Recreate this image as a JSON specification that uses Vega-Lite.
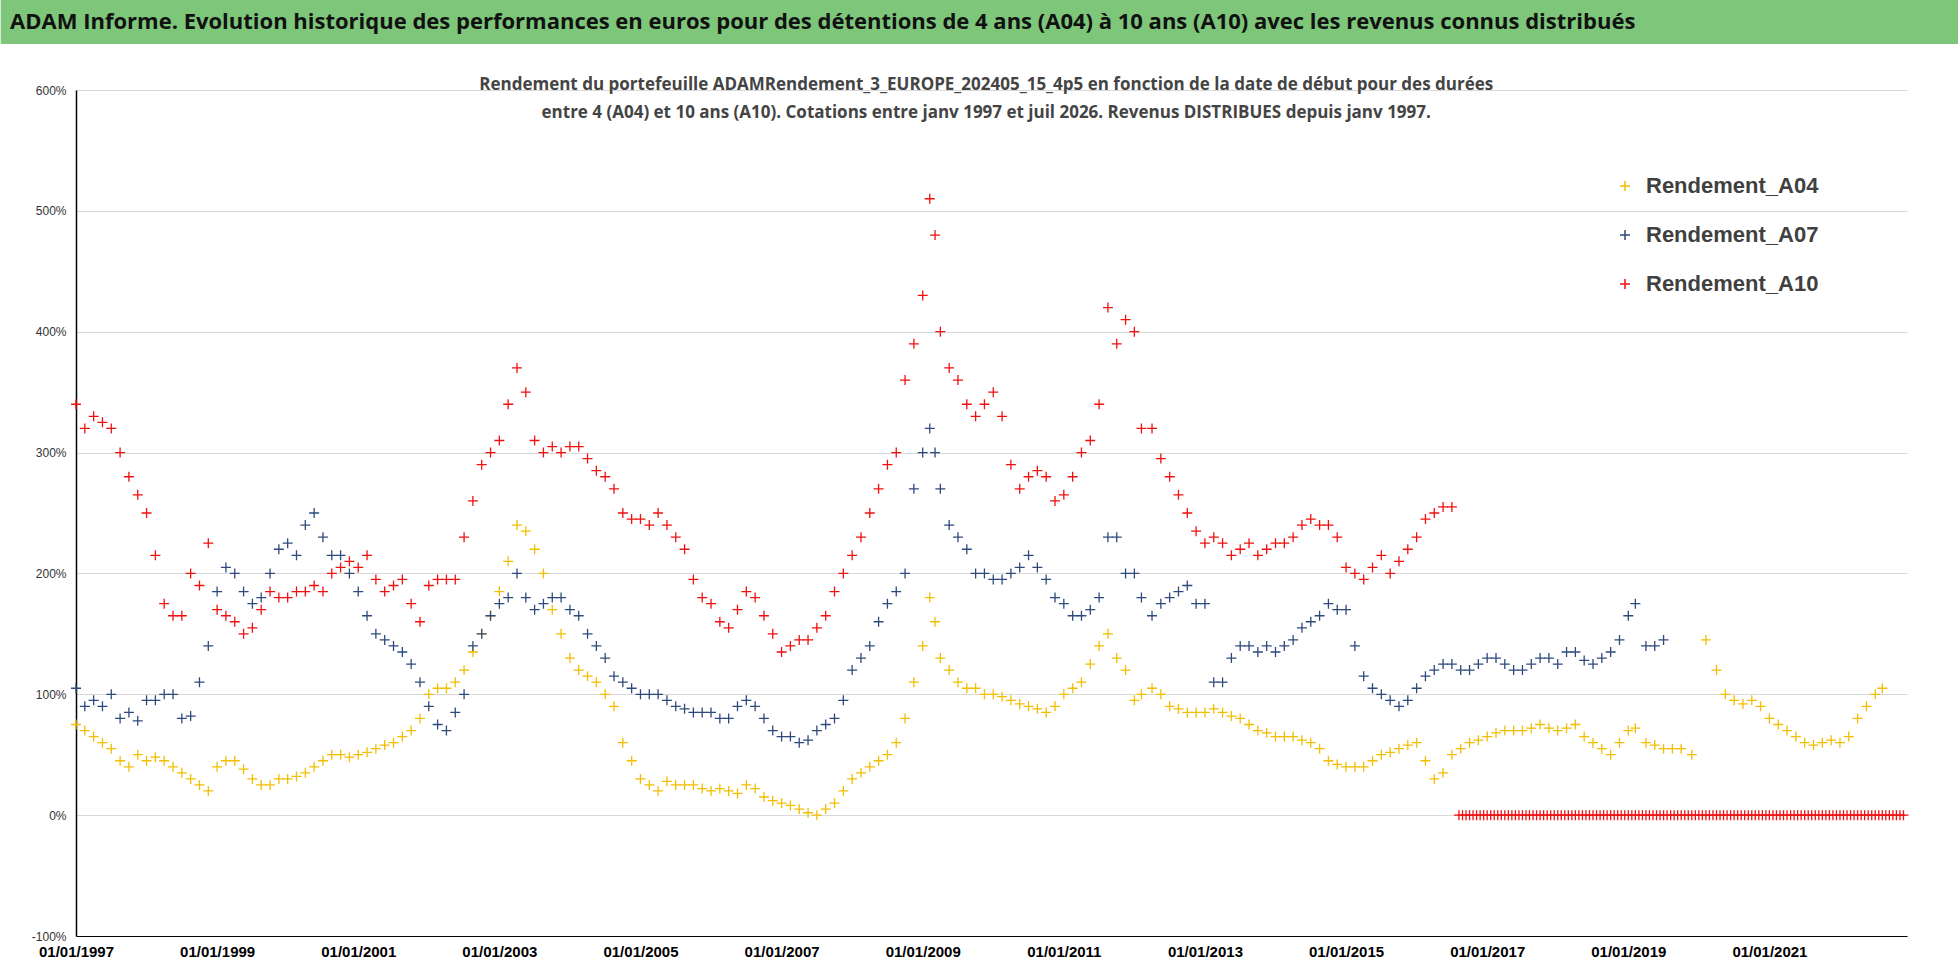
{
  "$schema": "https://vega.github.io/schema/vega-lite/v6.json",
  "background": "white",
  "padding": 0,
  "spacing": 32,
  "config": {"view": {"stroke": null}, "font": "Liberation Sans"},
  "vconcat": [
    {
      "width": 1883,
      "height": 44,
      "data": {"values": [{"t": "ADAM Informe. Evolution historique des performances en euros pour des détentions de 4 ans (A04) à 10 ans (A10) avec les revenus connus distribués", "x0": -0.04, "x1": 1, "y0": 0, "y1": 1}]},
      "layer": [
        {
          "mark": {"type": "rect", "color": "#7DC67A"},
          "encoding": {
            "x": {"field": "x0", "type": "quantitative", "scale": {"domain": [0, 1], "nice": false, "zero": false}, "axis": null},
            "x2": {"field": "x1"},
            "y": {"field": "y0", "type": "quantitative", "scale": {"domain": [0, 1], "nice": false}, "axis": null},
            "y2": {"field": "y1"}
          }
        },
        {
          "mark": {"type": "text", "align": "left", "baseline": "middle", "fontSize": 22, "fontWeight": "bold", "color": "#111111", "font": "Open Sans"},
          "encoding": {
            "x": {"datum": -0.035, "type": "quantitative"},
            "y": {"datum": 0.5, "type": "quantitative"},
            "text": {"field": "t"}
          }
        }
      ]
    },
    {
      "width": 1831,
      "height": 846,
      "layer": [
        {
          "data": {"values": [
            {"t":1997.0,"a4":75,"a7":105,"a10":340},
            {"t":1997.25,"a4":65,"a7":95,"a10":330},
            {"t":1997.5,"a4":55,"a7":100,"a10":320},
            {"t":1997.75,"a4":40,"a7":85,"a10":280},
            {"t":1998.0,"a4":45,"a7":95,"a10":250},
            {"t":1998.25,"a4":45,"a7":100,"a10":175},
            {"t":1998.5,"a4":35,"a7":80,"a10":165},
            {"t":1998.75,"a4":25,"a7":110,"a10":190},
            {"t":1999.0,"a4":40,"a7":185,"a10":170},
            {"t":1999.25,"a4":45,"a7":200,"a10":160},
            {"t":1999.5,"a4":30,"a7":175,"a10":155},
            {"t":1999.75,"a4":25,"a7":200,"a10":185},
            {"t":2000.0,"a4":30,"a7":225,"a10":180},
            {"t":2000.25,"a4":35,"a7":240,"a10":185},
            {"t":2000.5,"a4":45,"a7":230,"a10":185},
            {"t":2000.75,"a4":50,"a7":215,"a10":205},
            {"t":2001.0,"a4":50,"a7":185,"a10":205},
            {"t":2001.25,"a4":55,"a7":150,"a10":195},
            {"t":2001.5,"a4":60,"a7":140,"a10":190},
            {"t":2001.75,"a4":70,"a7":125,"a10":175},
            {"t":2002.0,"a4":100,"a7":90,"a10":190},
            {"t":2002.25,"a4":105,"a7":70,"a10":195},
            {"t":2002.5,"a4":120,"a7":100,"a10":230},
            {"t":2002.75,"a4":150,"a7":150,"a10":290},
            {"t":2003.0,"a4":185,"a7":175,"a10":310},
            {"t":2003.25,"a4":240,"a7":200,"a10":370},
            {"t":2003.5,"a4":220,"a7":170,"a10":310},
            {"t":2003.75,"a4":170,"a7":180,"a10":305},
            {"t":2004.0,"a4":130,"a7":170,"a10":305},
            {"t":2004.25,"a4":115,"a7":150,"a10":295},
            {"t":2004.5,"a4":100,"a7":130,"a10":280},
            {"t":2004.75,"a4":60,"a7":110,"a10":250},
            {"t":2005.0,"a4":30,"a7":100,"a10":245},
            {"t":2005.25,"a4":20,"a7":100,"a10":250},
            {"t":2005.5,"a4":25,"a7":90,"a10":230},
            {"t":2005.75,"a4":25,"a7":85,"a10":195},
            {"t":2006.0,"a4":20,"a7":85,"a10":175},
            {"t":2006.25,"a4":20,"a7":80,"a10":155},
            {"t":2006.5,"a4":25,"a7":95,"a10":185},
            {"t":2006.75,"a4":15,"a7":80,"a10":165},
            {"t":2007.0,"a4":10,"a7":65,"a10":135},
            {"t":2007.25,"a4":5,"a7":60,"a10":145},
            {"t":2007.5,"a4":0,"a7":70,"a10":155},
            {"t":2007.75,"a4":10,"a7":80,"a10":185},
            {"t":2008.0,"a4":30,"a7":120,"a10":215},
            {"t":2008.25,"a4":40,"a7":140,"a10":250},
            {"t":2008.5,"a4":50,"a7":175,"a10":290},
            {"t":2008.75,"a4":80,"a7":200,"a10":360},
            {"t":2009.0,"a4":140,"a7":300,"a10":430},
            {"t":2009.1,"a4":180,"a7":320,"a10":510},
            {"t":2009.25,"a4":130,"a7":270,"a10":400},
            {"t":2009.5,"a4":110,"a7":230,"a10":360},
            {"t":2009.75,"a4":105,"a7":200,"a10":330},
            {"t":2010.0,"a4":100,"a7":195,"a10":350},
            {"t":2010.25,"a4":95,"a7":200,"a10":290},
            {"t":2010.5,"a4":90,"a7":215,"a10":280},
            {"t":2010.75,"a4":85,"a7":195,"a10":280},
            {"t":2011.0,"a4":100,"a7":175,"a10":265},
            {"t":2011.25,"a4":110,"a7":165,"a10":300},
            {"t":2011.5,"a4":140,"a7":180,"a10":340},
            {"t":2011.75,"a4":130,"a7":230,"a10":390},
            {"t":2012.0,"a4":95,"a7":200,"a10":400},
            {"t":2012.1,"a4":100,"a7":180,"a10":320},
            {"t":2012.25,"a4":105,"a7":165,"a10":320},
            {"t":2012.5,"a4":90,"a7":180,"a10":280},
            {"t":2012.75,"a4":85,"a7":190,"a10":250},
            {"t":2013.0,"a4":85,"a7":175,"a10":225},
            {"t":2013.25,"a4":85,"a7":110,"a10":225},
            {"t":2013.5,"a4":80,"a7":140,"a10":220},
            {"t":2013.75,"a4":70,"a7":135,"a10":215},
            {"t":2014.0,"a4":65,"a7":135,"a10":225},
            {"t":2014.25,"a4":65,"a7":145,"a10":230},
            {"t":2014.5,"a4":60,"a7":160,"a10":245},
            {"t":2014.75,"a4":45,"a7":175,"a10":240},
            {"t":2015.0,"a4":40,"a7":170,"a10":205},
            {"t":2015.25,"a4":40,"a7":115,"a10":195},
            {"t":2015.5,"a4":50,"a7":100,"a10":215},
            {"t":2015.75,"a4":55,"a7":90,"a10":210},
            {"t":2016.0,"a4":60,"a7":105,"a10":230},
            {"t":2016.25,"a4":30,"a7":120,"a10":250},
            {"t":2016.5,"a4":50,"a7":125,"a10":255},
            {"t":2016.75,"a4":60,"a7":120,"a10":null},
            {"t":2017.0,"a4":65,"a7":130,"a10":null},
            {"t":2017.25,"a4":70,"a7":125,"a10":null},
            {"t":2017.5,"a4":70,"a7":120,"a10":null},
            {"t":2017.75,"a4":75,"a7":130,"a10":null},
            {"t":2018.0,"a4":70,"a7":125,"a10":null},
            {"t":2018.25,"a4":75,"a7":135,"a10":null},
            {"t":2018.5,"a4":60,"a7":125,"a10":null},
            {"t":2018.75,"a4":50,"a7":135,"a10":null},
            {"t":2019.0,"a4":70,"a7":165,"a10":null},
            {"t":2019.1,"a4":72,"a7":175,"a10":null},
            {"t":2019.25,"a4":60,"a7":140,"a10":null},
            {"t":2019.5,"a4":55,"a7":145,"a10":null},
            {"t":2019.75,"a4":55,"a7":null,"a10":null},
            {"t":2019.9,"a4":50,"a7":null,"a10":null},
            {"t":2020.1,"a4":145,"a7":null,"a10":null},
            {"t":2020.25,"a4":120,"a7":null,"a10":null},
            {"t":2020.5,"a4":95,"a7":null,"a10":null},
            {"t":2020.75,"a4":95,"a7":null,"a10":null},
            {"t":2021.0,"a4":80,"a7":null,"a10":null},
            {"t":2021.25,"a4":70,"a7":null,"a10":null},
            {"t":2021.5,"a4":60,"a7":null,"a10":null},
            {"t":2021.75,"a4":60,"a7":null,"a10":null},
            {"t":2022.0,"a4":60,"a7":null,"a10":null},
            {"t":2022.25,"a4":80,"a7":null,"a10":null},
            {"t":2022.5,"a4":100,"a7":null,"a10":null},
            {"t":2022.6,"a4":105,"a7":null,"a10":null},
            {"t":1997.125,"a4":70,"a7":90,"a10":320},
            {"t":1997.375,"a4":60,"a7":90,"a10":325},
            {"t":1997.625,"a4":45,"a7":80,"a10":300},
            {"t":1997.875,"a4":50,"a7":78,"a10":265},
            {"t":1998.125,"a4":48,"a7":95,"a10":215},
            {"t":1998.375,"a4":40,"a7":100,"a10":165},
            {"t":1998.625,"a4":30,"a7":82,"a10":200},
            {"t":1998.875,"a4":20,"a7":140,"a10":225},
            {"t":1999.125,"a4":45,"a7":205,"a10":165},
            {"t":1999.375,"a4":38,"a7":185,"a10":150},
            {"t":1999.625,"a4":25,"a7":180,"a10":170},
            {"t":1999.875,"a4":30,"a7":220,"a10":180},
            {"t":2000.125,"a4":32,"a7":215,"a10":185},
            {"t":2000.375,"a4":40,"a7":250,"a10":190},
            {"t":2000.625,"a4":50,"a7":215,"a10":200},
            {"t":2000.875,"a4":48,"a7":200,"a10":210},
            {"t":2001.125,"a4":52,"a7":165,"a10":215},
            {"t":2001.375,"a4":58,"a7":145,"a10":185},
            {"t":2001.625,"a4":65,"a7":135,"a10":195},
            {"t":2001.875,"a4":80,"a7":110,"a10":160},
            {"t":2002.125,"a4":105,"a7":75,"a10":195},
            {"t":2002.375,"a4":110,"a7":85,"a10":195},
            {"t":2002.625,"a4":135,"a7":140,"a10":260},
            {"t":2002.875,"a4":165,"a7":165,"a10":300},
            {"t":2003.125,"a4":210,"a7":180,"a10":340},
            {"t":2003.375,"a4":235,"a7":180,"a10":350},
            {"t":2003.625,"a4":200,"a7":175,"a10":300},
            {"t":2003.875,"a4":150,"a7":180,"a10":300},
            {"t":2004.125,"a4":120,"a7":165,"a10":305},
            {"t":2004.375,"a4":110,"a7":140,"a10":285},
            {"t":2004.625,"a4":90,"a7":115,"a10":270},
            {"t":2004.875,"a4":45,"a7":105,"a10":245},
            {"t":2005.125,"a4":25,"a7":100,"a10":240},
            {"t":2005.375,"a4":28,"a7":95,"a10":240},
            {"t":2005.625,"a4":25,"a7":88,"a10":220},
            {"t":2005.875,"a4":22,"a7":85,"a10":180},
            {"t":2006.125,"a4":22,"a7":80,"a10":160},
            {"t":2006.375,"a4":18,"a7":90,"a10":170},
            {"t":2006.625,"a4":22,"a7":90,"a10":180},
            {"t":2006.875,"a4":12,"a7":70,"a10":150},
            {"t":2007.125,"a4":8,"a7":65,"a10":140},
            {"t":2007.375,"a4":2,"a7":62,"a10":145},
            {"t":2007.625,"a4":5,"a7":75,"a10":165},
            {"t":2007.875,"a4":20,"a7":95,"a10":200},
            {"t":2008.125,"a4":35,"a7":130,"a10":230},
            {"t":2008.375,"a4":45,"a7":160,"a10":270},
            {"t":2008.625,"a4":60,"a7":185,"a10":300},
            {"t":2008.875,"a4":110,"a7":270,"a10":390},
            {"t":2009.175,"a4":160,"a7":300,"a10":480},
            {"t":2009.375,"a4":120,"a7":240,"a10":370},
            {"t":2009.625,"a4":105,"a7":220,"a10":340},
            {"t":2009.875,"a4":100,"a7":200,"a10":340},
            {"t":2010.125,"a4":98,"a7":195,"a10":330},
            {"t":2010.375,"a4":92,"a7":205,"a10":270},
            {"t":2010.625,"a4":88,"a7":205,"a10":285},
            {"t":2010.875,"a4":90,"a7":180,"a10":260},
            {"t":2011.125,"a4":105,"a7":165,"a10":280},
            {"t":2011.375,"a4":125,"a7":170,"a10":310},
            {"t":2011.625,"a4":150,"a7":230,"a10":420},
            {"t":2011.875,"a4":120,"a7":200,"a10":410},
            {"t":2012.375,"a4":100,"a7":175,"a10":295},
            {"t":2012.625,"a4":88,"a7":185,"a10":265},
            {"t":2012.875,"a4":85,"a7":175,"a10":235},
            {"t":2013.125,"a4":88,"a7":110,"a10":230},
            {"t":2013.375,"a4":82,"a7":130,"a10":215},
            {"t":2013.625,"a4":75,"a7":140,"a10":225},
            {"t":2013.875,"a4":68,"a7":140,"a10":220},
            {"t":2014.125,"a4":65,"a7":140,"a10":225},
            {"t":2014.375,"a4":62,"a7":155,"a10":240},
            {"t":2014.625,"a4":55,"a7":165,"a10":240},
            {"t":2014.875,"a4":42,"a7":170,"a10":230},
            {"t":2015.125,"a4":40,"a7":140,"a10":200},
            {"t":2015.375,"a4":45,"a7":105,"a10":205},
            {"t":2015.625,"a4":52,"a7":95,"a10":200},
            {"t":2015.875,"a4":58,"a7":95,"a10":220},
            {"t":2016.125,"a4":45,"a7":115,"a10":245},
            {"t":2016.375,"a4":35,"a7":125,"a10":255},
            {"t":2016.625,"a4":55,"a7":120,"a10":null},
            {"t":2016.875,"a4":62,"a7":125,"a10":null},
            {"t":2017.125,"a4":68,"a7":130,"a10":null},
            {"t":2017.375,"a4":70,"a7":120,"a10":null},
            {"t":2017.625,"a4":72,"a7":125,"a10":null},
            {"t":2017.875,"a4":72,"a7":130,"a10":null},
            {"t":2018.125,"a4":72,"a7":135,"a10":null},
            {"t":2018.375,"a4":65,"a7":128,"a10":null},
            {"t":2018.625,"a4":55,"a7":130,"a10":null},
            {"t":2018.875,"a4":60,"a7":145,"a10":null},
            {"t":2019.375,"a4":58,"a7":140,"a10":null},
            {"t":2019.625,"a4":55,"a7":null,"a10":null},
            {"t":2020.375,"a4":100,"a7":null,"a10":null},
            {"t":2020.625,"a4":92,"a7":null,"a10":null},
            {"t":2020.875,"a4":90,"a7":null,"a10":null},
            {"t":2021.125,"a4":75,"a7":null,"a10":null},
            {"t":2021.375,"a4":65,"a7":null,"a10":null},
            {"t":2021.625,"a4":58,"a7":null,"a10":null},
            {"t":2021.875,"a4":62,"a7":null,"a10":null},
            {"t":2022.125,"a4":65,"a7":null,"a10":null},
            {"t":2022.375,"a4":90,"a7":null,"a10":null}
          ]},
          "transform": [
            {"fold": ["a4", "a7", "a10"], "as": ["k", "v"]},
            {"filter": "datum.v != null"},
            {"lookup": "k", "from": {"data": {"values": [{"k":"a4","s":"Rendement_A04"},{"k":"a7","s":"Rendement_A07"},{"k":"a10","s":"Rendement_A10"}]}, "key": "k", "fields": ["s"]}}
          ],
          "mark": {"type": "point", "shape": "M-1,0L1,0M0,-1L0,1", "filled": false, "size": 100, "strokeWidth": 1.3, "opacity": 1},
          "encoding": {
            "x": {"field": "t", "type": "quantitative", "scale": {"domain": [1997, 2022.95], "nice": false, "zero": false},
              "axis": {"values": [1997,1999,2001,2003,2005,2007,2009,2011,2013,2015,2017,2019,2021], "labelExpr": "'01/01/' + datum.value", "labelFlush": false, "title": null, "grid": false, "domainColor": "#000000", "ticks": false, "labelFontSize": 15, "labelFontWeight": "bold", "labelColor": "#000000", "labelPadding": 8}},
            "y": {"field": "v", "type": "quantitative", "scale": {"domain": [-100, 600], "nice": false},
              "axis": {"values": [-100,0,100,200,300,400,500,600], "labelExpr": "datum.value + '%'", "title": null, "gridColor": "#d9d9d9", "domainColor": "#000000", "domainWidth": 1.5, "ticks": false, "labelFontSize": 12, "labelColor": "#333333", "minExtent": 75, "maxExtent": 75, "labelPadding": 10}},
            "color": {"field": "s", "type": "nominal", "title": null,
              "scale": {"domain": ["Rendement_A04", "Rendement_A07", "Rendement_A10"], "range": ["#F2BE00", "#2E4A7D", "#F01010"]},
              "legend": {"orient": "none", "legendX": 1538, "legendY": 175, "symbolType": "M-1,0L1,0M0,-1L0,1", "symbolSize": 100, "symbolStrokeWidth": 1.5, "labelFontSize": 22, "labelFontWeight": "bold", "labelColor": "#404040", "labelLimit": 0, "rowPadding": 27, "labelOffset": 10}}
          }
        },
        {
          "data": {"values": [
            {"t":2016.6},{"t":2016.65},{"t":2016.7},{"t":2016.75},{"t":2016.8},{"t":2016.85},{"t":2016.9},{"t":2016.95},{"t":2017.0},{"t":2017.05},{"t":2017.1},{"t":2017.15},{"t":2017.2},{"t":2017.25},{"t":2017.3},{"t":2017.35},{"t":2017.4},{"t":2017.45},{"t":2017.5},{"t":2017.55},
            {"t":2017.6},{"t":2017.65},{"t":2017.7},{"t":2017.75},{"t":2017.8},{"t":2017.85},{"t":2017.9},{"t":2017.95},{"t":2018.0},{"t":2018.05},{"t":2018.1},{"t":2018.15},{"t":2018.2},{"t":2018.25},{"t":2018.3},{"t":2018.35},{"t":2018.4},{"t":2018.45},{"t":2018.5},{"t":2018.55},
            {"t":2018.6},{"t":2018.65},{"t":2018.7},{"t":2018.75},{"t":2018.8},{"t":2018.85},{"t":2018.9},{"t":2018.95},{"t":2019.0},{"t":2019.05},{"t":2019.1},{"t":2019.15},{"t":2019.2},{"t":2019.25},{"t":2019.3},{"t":2019.35},{"t":2019.4},{"t":2019.45},{"t":2019.5},{"t":2019.55},
            {"t":2019.6},{"t":2019.65},{"t":2019.7},{"t":2019.75},{"t":2019.8},{"t":2019.85},{"t":2019.9},{"t":2019.95},{"t":2020.0},{"t":2020.05},{"t":2020.1},{"t":2020.15},{"t":2020.2},{"t":2020.25},{"t":2020.3},{"t":2020.35},{"t":2020.4},{"t":2020.45},{"t":2020.5},{"t":2020.55},
            {"t":2020.6},{"t":2020.65},{"t":2020.7},{"t":2020.75},{"t":2020.8},{"t":2020.85},{"t":2020.9},{"t":2020.95},{"t":2021.0},{"t":2021.05},{"t":2021.1},{"t":2021.15},{"t":2021.2},{"t":2021.25},{"t":2021.3},{"t":2021.35},{"t":2021.4},{"t":2021.45},{"t":2021.5},{"t":2021.55},
            {"t":2021.6},{"t":2021.65},{"t":2021.7},{"t":2021.75},{"t":2021.8},{"t":2021.85},{"t":2021.9},{"t":2021.95},{"t":2022.0},{"t":2022.05},{"t":2022.1},{"t":2022.15},{"t":2022.2},{"t":2022.25},{"t":2022.3},{"t":2022.35},{"t":2022.4},{"t":2022.45},{"t":2022.5},{"t":2022.55},
            {"t":2022.6},{"t":2022.65},{"t":2022.7},{"t":2022.75},{"t":2022.8},{"t":2022.85},{"t":2022.9}
          ]},
          "mark": {"type": "point", "shape": "M-1,0L1,0M0,-1L0,1", "filled": false, "size": 100, "strokeWidth": 1.3, "color": "#F01010", "opacity": 1},
          "encoding": {
            "x": {"field": "t", "type": "quantitative"},
            "y": {"datum": 0, "type": "quantitative"}
          }
        },
        {
          "data": {"values": [
            {"line": "Rendement du portefeuille ADAMRendement_3_EUROPE_202405_15_4p5  en fonction de la date de début pour des durées", "y": 604},
            {"line": "entre 4 (A04) et 10 ans (A10). Cotations entre janv 1997 et juil 2026. Revenus DISTRIBUES depuis janv 1997.", "y": 581}
          ]},
          "mark": {"type": "text", "fontSize": 17, "fontWeight": "bold", "color": "#444444", "font": "Open Sans"},
          "encoding": {
            "x": {"datum": 2009.9, "type": "quantitative"},
            "y": {"field": "y", "type": "quantitative"},
            "text": {"field": "line"}
          }
        }
      ]
    }
  ]
}
